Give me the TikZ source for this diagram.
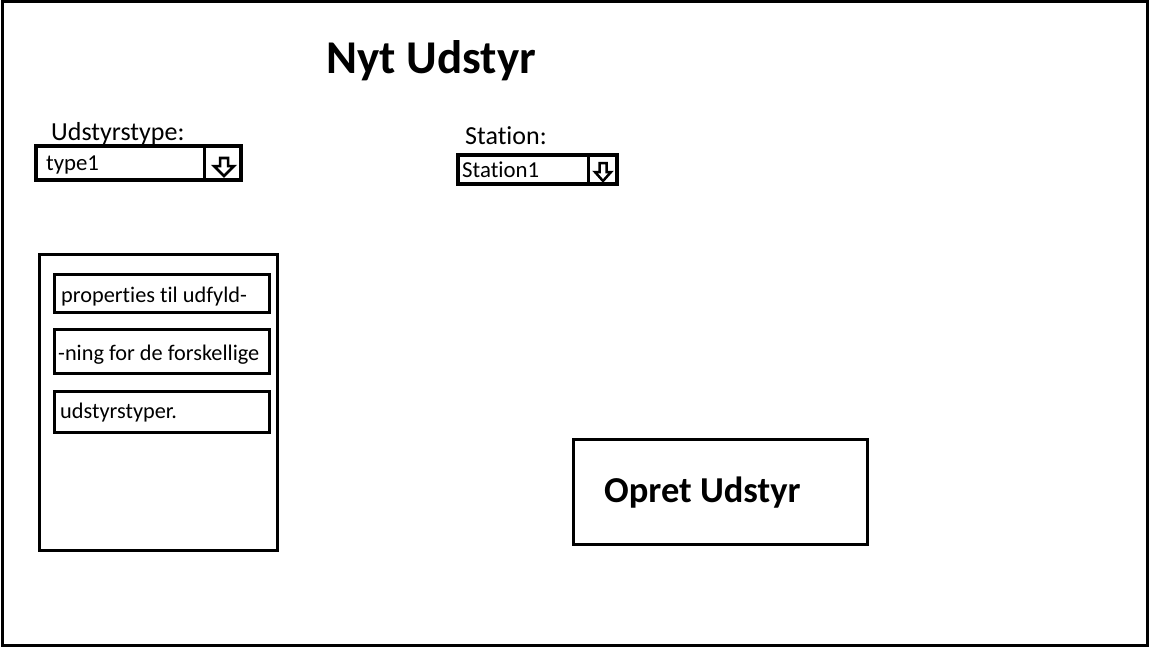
\documentclass[tikz,border=0pt]{standalone}
\usepackage{fontspec}
\setmainfont{Carlito}[RawFeature={-liga}]
\begin{document}
\begin{tikzpicture}[x=1pt,y=-1pt,
  frame/.style={draw,line width=3pt,inner sep=0pt,outer sep=0pt,anchor=north west},
  combo/.style={draw,line width=4pt,inner sep=0pt,outer sep=0pt,anchor=north west},
  lbl/.style={anchor=base west,inner sep=0pt,font=\fontsize{26}{30}\selectfont},
  val/.style={anchor=base west,inner sep=0pt,font=\fontsize{22.8}{26}\selectfont},
  prop/.style={anchor=base west,inner sep=0pt,font=\fontsize{22.3}{26}\selectfont},
  arr/.style={draw,line width=2.5pt,line join=miter}]
\useasboundingbox (0,0) rectangle (1151,650);
% outer frame
\node[frame,minimum width=1145pt,minimum height=643pt] (win) at (2,2) {};
% title
\node[anchor=base west,inner sep=0pt,font=\bfseries\fontsize{47}{54}\selectfont] (title) at (326,74) {Nyt Udstyr};
% Udstyrstype
\node[lbl] (l1) at (51,141) {Udstyrstype:};
\node[combo,minimum width=205pt,minimum height=34pt] (c1) at (36,146) {};
\coordinate (d1t) at (204.5,146);
\coordinate (d1b) at (204.5,180);
\draw[line width=3pt] (d1t) -- (d1b);
\node[val] (v1) at (46,171) {type1};
\draw[arr] (220,158) -- (228,158) -- (228,166) -- (234,166) -- (224,176) -- (214,166) -- (220,166) -- cycle;
% Station
\node[lbl] (l2) at (465,145) {Station:};
\node[combo,minimum width=159pt,minimum height=29pt] (c2) at (458,155) {};
\coordinate (d2t) at (588.5,155);
\coordinate (d2b) at (588.5,184);
\draw[line width=3pt] (d2t) -- (d2b);
\node[val] (v2) at (462,177) {Station1};
\draw[arr] (599.5,163) -- (606.5,163) -- (606.5,172) -- (611,172) -- (603,181) -- (595,172) -- (599.5,172) -- cycle;
% properties panel
\node[frame,minimum width=238pt,minimum height=296pt] (panel) at (39,254) {};
\node[frame,minimum width=215pt,minimum height=38pt] (p1) at (54,274) {};
\node[frame,minimum width=215pt,minimum height=44pt] (p2) at (54,329) {};
\node[frame,minimum width=215pt,minimum height=41pt] (p3) at (54,391) {};
\node[prop] (t1) at (61,302) {properties til udfyld-};
\node[prop] (t2) at (58,360) {-ning for de forskellige};
\node[prop] (t3) at (60,418) {udstyrstyper.};
% button
\node[frame,minimum width=294pt,minimum height=105pt] (btn) at (573,439) {};
\node[anchor=base west,inner sep=0pt,font=\bfseries\fontsize{36.5}{42}\selectfont] (bt) at (604,502) {Opret Udstyr};
\end{tikzpicture}
\end{document}
